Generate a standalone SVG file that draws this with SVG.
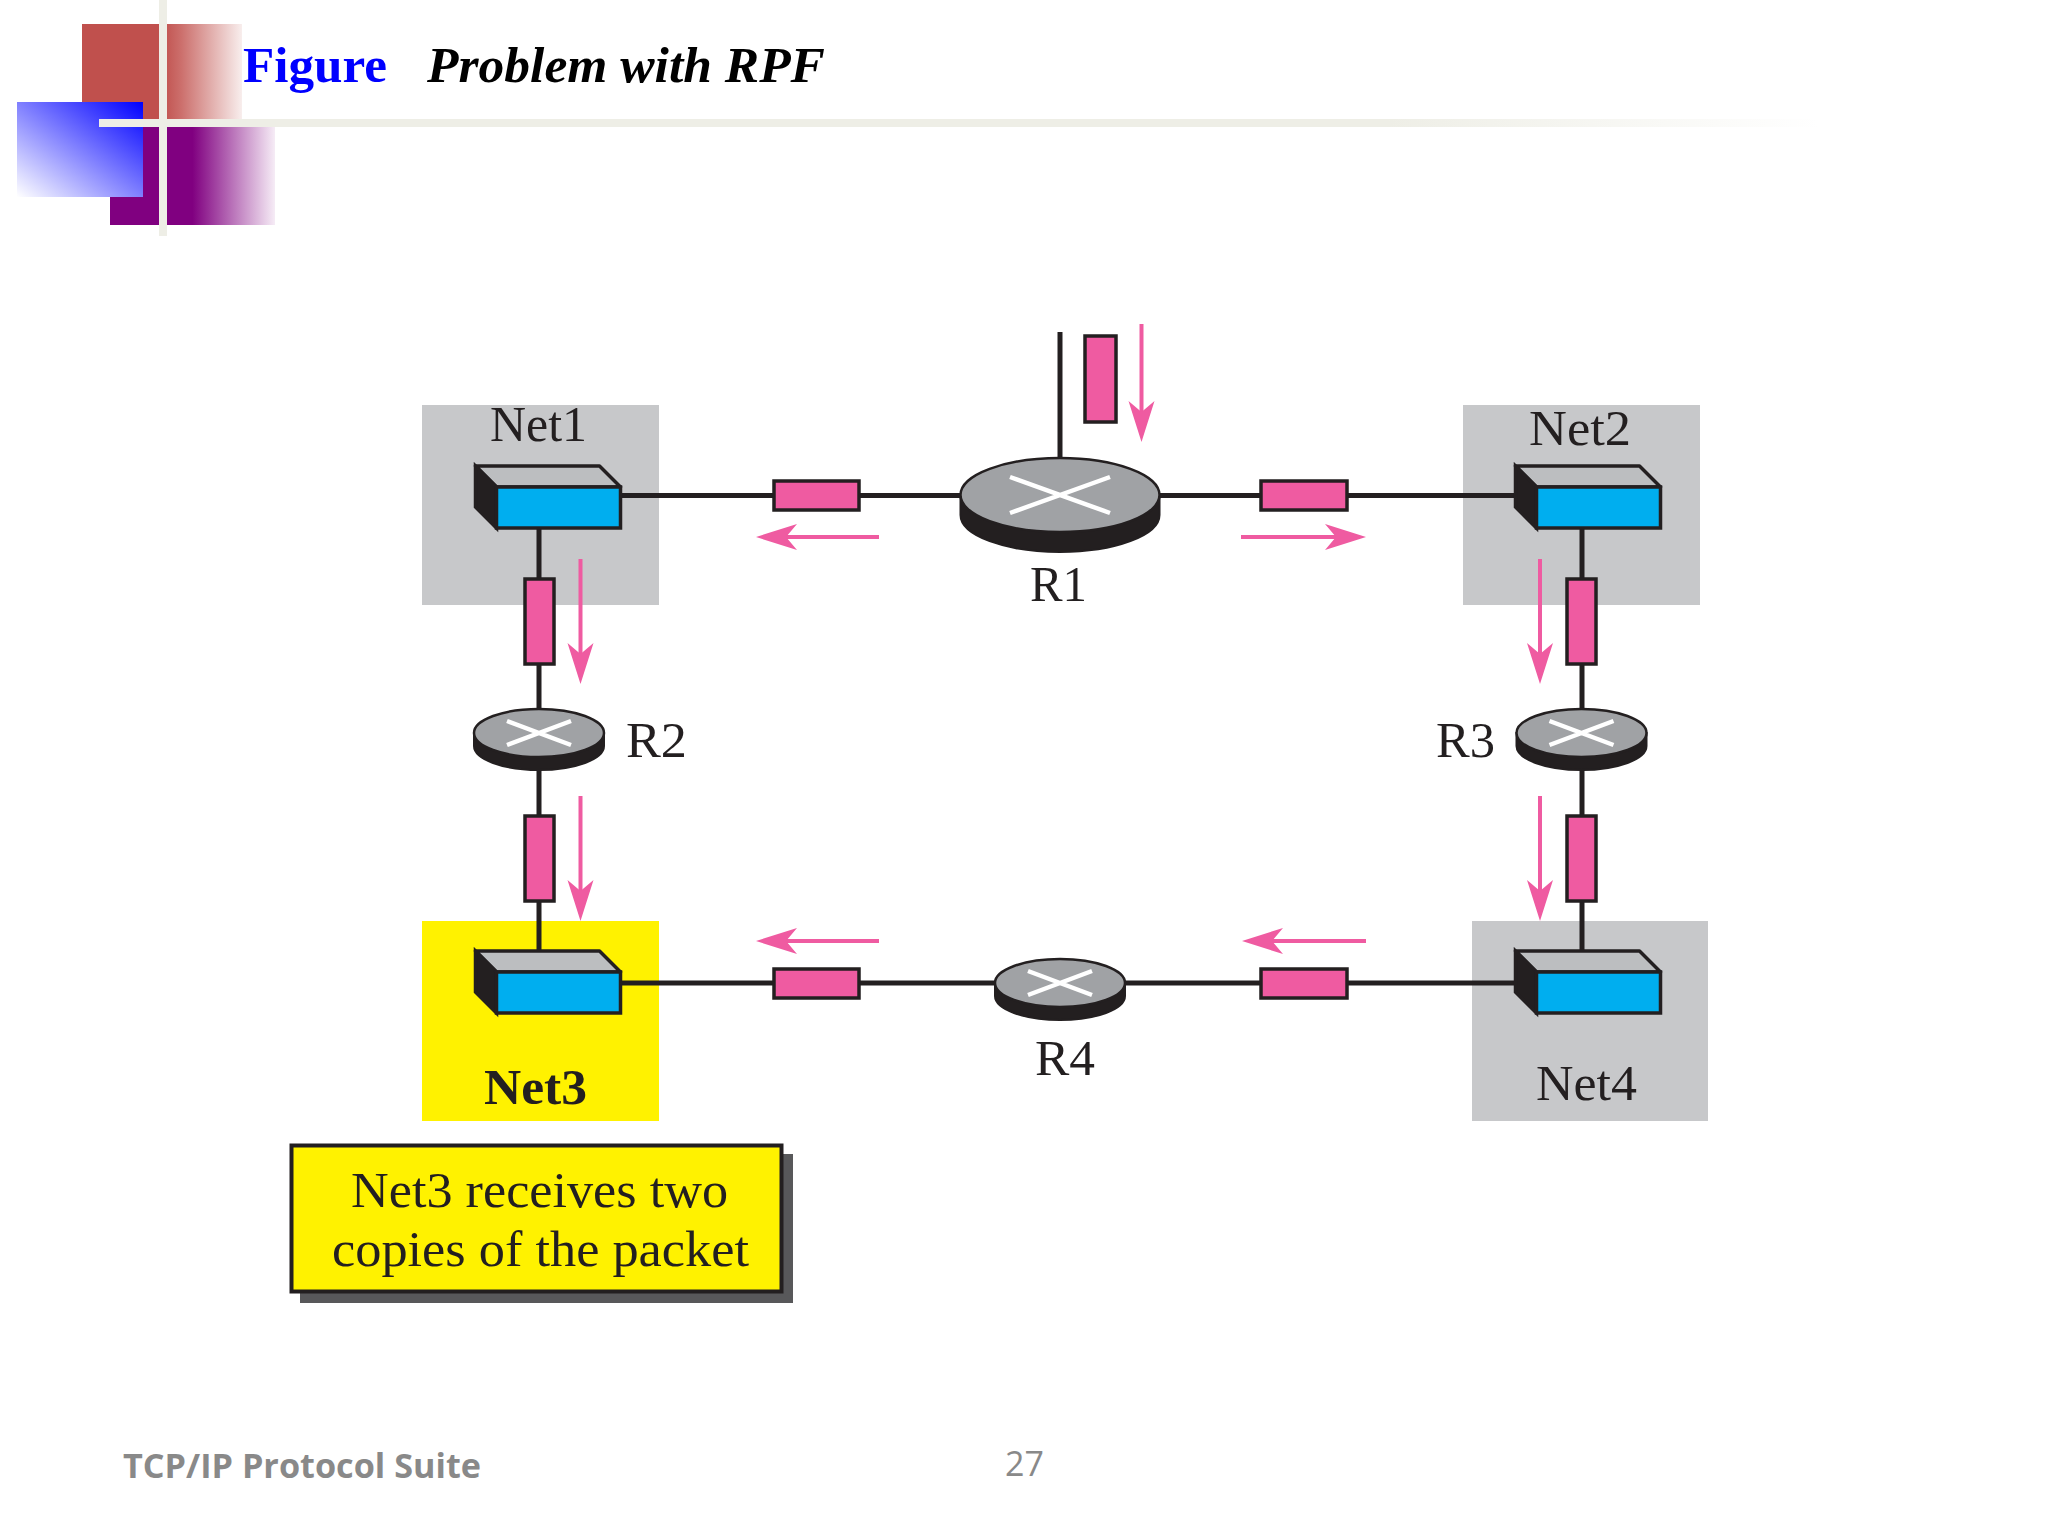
<svg xmlns="http://www.w3.org/2000/svg" xmlns:xlink="http://www.w3.org/1999/xlink" width="2048" height="1536" viewBox="0 0 2048 1536">
<style>
.lab{font-family:"Liberation Serif","Times New Roman",serif;font-size:50px;fill:#231f20}
.title{font-family:"Liberation Serif","Times New Roman",serif;font-size:50px;font-weight:bold}
.foot{font-family:"Open Sans","Noto Sans",sans-serif;font-size:34px;fill:#898989}
.wire{stroke:#231f20;stroke-width:5;fill:none}
.flow{stroke:#ef5ba1;stroke-width:4;fill:none;marker-end:url(#ah)}
.pkt{fill:#ef5ba1;stroke:#231f20;stroke-width:3.5}
.net{fill:#c7c8ca}
.dark{fill:#231f20;stroke:#231f20;stroke-width:2}
.cream{fill:#eeeee6}
</style>
<defs>
<marker id="ah" markerUnits="userSpaceOnUse" markerWidth="42" markerHeight="28" viewBox="0 -14 42 28" refX="12" refY="0" orient="auto"><path d="M0,-13L41,0L0,13L11,0Z" fill="#ef5ba1"/></marker>
<linearGradient id="gr" x1="0" x2="1" y1="0" y2="0"><stop offset="0" stop-color="#c0504d"/><stop offset="0.5" stop-color="#c0504d"/><stop offset="0.62" stop-color="#cc6f6c"/><stop offset="1" stop-color="#f8eeed"/></linearGradient>
<linearGradient id="gp" x1="0" x2="1" y1="0" y2="0"><stop offset="0" stop-color="#800080"/><stop offset="0.5" stop-color="#800080"/><stop offset="1" stop-color="#f6ecf6"/></linearGradient>
<linearGradient id="gb" x1="1" x2="0" y1="0" y2="1"><stop offset="0" stop-color="#0000ff"/><stop offset="1" stop-color="#ffffff"/></linearGradient>
<linearGradient id="gl" x1="0" x2="1" y1="0" y2="0"><stop offset="0" stop-color="#eeeee6"/><stop offset="0.75" stop-color="#eeeee6"/><stop offset="1" stop-color="#eeeee6" stop-opacity="0"/></linearGradient>
<g id="sw">
<path d="M0,0H124L145,21H21Z" fill="#bcbec0" stroke="#231f20" stroke-width="3.5" stroke-linejoin="round"/>
<path d="M0,0L21,21V62L0,41Z" fill="#231f20" stroke="#231f20" stroke-width="3.5"/>
<rect x="21" y="21" width="124" height="41" fill="#00aeef" stroke="#231f20" stroke-width="3.5"/>
</g>
<g id="rs">
<path d="M-65,0V13A65,24 0 0 0 65,13V0Z" class="dark"/>
<ellipse rx="65" ry="24" fill="#a0a2a5" stroke="#231f20" stroke-width="2.500"/>
<path d="M-32,-12L32,12M-32,12L32,-12" stroke="#fff" stroke-width="4.500" fill="none"/>
</g>
<g id="rb">
<path d="M-99.500,0V20A99.500,37 0 0 0 99.500,20V0Z" class="dark"/>
<ellipse rx="99.500" ry="37" fill="#a0a2a5" stroke="#231f20" stroke-width="2.500"/>
<path d="M-50,-18L50,18M-50,18L50,-18" stroke="#fff" stroke-width="4.500" fill="none"/>
</g>
</defs>
<rect width="2048" height="1536" fill="#fff"/>
<g id="decor">
<rect x="82" y="24" width="160" height="95" fill="url(#gr)"/>
<rect x="110" y="119" width="165" height="106" fill="url(#gp)"/>
<rect x="17" y="102" width="126" height="95" fill="url(#gb)"/>
<rect class="cream" x="159" y="0" width="8" height="236"/>
<rect x="99" y="119" width="1720" height="8" fill="url(#gl)"/>
</g>
<g id="title">
<text class="title" x="243" y="82" fill="#0000ff" textLength="144" lengthAdjust="spacingAndGlyphs">Figure</text>
<text class="title" x="427" y="82" fill="#000" font-style="italic" textLength="398" lengthAdjust="spacingAndGlyphs">Problem with RPF</text>
</g>
<g id="net-backgrounds">
<rect class="net" x="422" y="405" width="237" height="200"/>
<rect class="net" x="1463" y="405" width="237" height="200"/>
<rect x="422" y="921" width="237" height="200" fill="#fff200"/>
<rect class="net" x="1472" y="921" width="236" height="200"/>
</g>
<g id="connectors">
<path class="wire" d="M1060,332V460"/>
<path class="wire" d="M621,495.500H965M1155,495.500H1520"/>
<path class="wire" d="M621,983H1520"/>
<path class="wire" d="M539,528V715M539,760V950"/>
<path class="wire" d="M1582,528V715M1582,760V950"/>
</g>
<g id="packets">
<rect class="pkt" x="1085" y="336" width="31" height="86"/>
<rect class="pkt" x="774" y="481" width="85" height="29"/>
<rect class="pkt" x="1261" y="481" width="86" height="29"/>
<rect class="pkt" x="525" y="579" width="29" height="85"/>
<rect class="pkt" x="1567" y="579" width="29" height="85"/>
<rect class="pkt" x="525" y="816" width="29" height="85"/>
<rect class="pkt" x="1567" y="816" width="29" height="85"/>
<rect class="pkt" x="774" y="969" width="85" height="29"/>
<rect class="pkt" x="1261" y="969" width="86" height="29"/>
</g>
<g id="flows">
<path class="flow" d="M1141.500,324V413"/>
<path class="flow" d="M879,537H785"/>
<path class="flow" d="M1241,537H1337"/>
<path class="flow" d="M580.500,559V655"/>
<path class="flow" d="M1540,559V655"/>
<path class="flow" d="M580.500,796V892"/>
<path class="flow" d="M1540,796V892"/>
<path class="flow" d="M879,941H785"/>
<path class="flow" d="M1366,941H1271"/>
</g>
<g id="Net1"><use xlink:href="#sw" href="#sw" x="475.500" y="466"/><text class="lab" x="490" y="441" textLength="97" lengthAdjust="spacingAndGlyphs">Net1</text></g>
<g id="Net2"><use xlink:href="#sw" href="#sw" x="1515.500" y="466"/><text class="lab" x="1529" y="445" textLength="102" lengthAdjust="spacingAndGlyphs">Net2</text></g>
<g id="Net3"><use xlink:href="#sw" href="#sw" x="475.500" y="951"/><text class="lab" x="484" y="1104" font-weight="bold" textLength="103" lengthAdjust="spacingAndGlyphs">Net3</text></g>
<g id="Net4"><use xlink:href="#sw" href="#sw" x="1515.500" y="951"/><text class="lab" x="1536" y="1100" textLength="101" lengthAdjust="spacingAndGlyphs">Net4</text></g>
<g id="R1"><use xlink:href="#rb" href="#rb" x="1060" y="495"/><text class="lab" x="1030" y="601" textLength="57" lengthAdjust="spacingAndGlyphs">R1</text></g>
<g id="R2"><use xlink:href="#rs" href="#rs" x="539" y="733"/><text class="lab" x="626" y="757" textLength="61" lengthAdjust="spacingAndGlyphs">R2</text></g>
<g id="R3"><use xlink:href="#rs" href="#rs" x="1581.500" y="733"/><text class="lab" x="1436" y="757" textLength="59" lengthAdjust="spacingAndGlyphs">R3</text></g>
<g id="R4"><use xlink:href="#rs" href="#rs" x="1060" y="983"/><text class="lab" x="1035" y="1075" textLength="60" lengthAdjust="spacingAndGlyphs">R4</text></g>
<g id="callout">
<rect x="300" y="1154" width="493" height="149" fill="#58585a"/>
<rect x="291.500" y="1145.500" width="490" height="146" fill="#fff200" stroke="#231f20" stroke-width="4"/>
<text class="lab" x="351" y="1207" textLength="377" lengthAdjust="spacingAndGlyphs">Net3 receives two</text>
<text class="lab" x="332" y="1266" textLength="417" lengthAdjust="spacingAndGlyphs">copies of the packet</text>
</g>
<g id="footer">
<text class="foot" x="123" y="1478" font-weight="bold" textLength="358" lengthAdjust="spacingAndGlyphs">TCP/IP Protocol Suite</text>
<text class="foot" x="1005" y="1476">27</text>
</g>
</svg>
